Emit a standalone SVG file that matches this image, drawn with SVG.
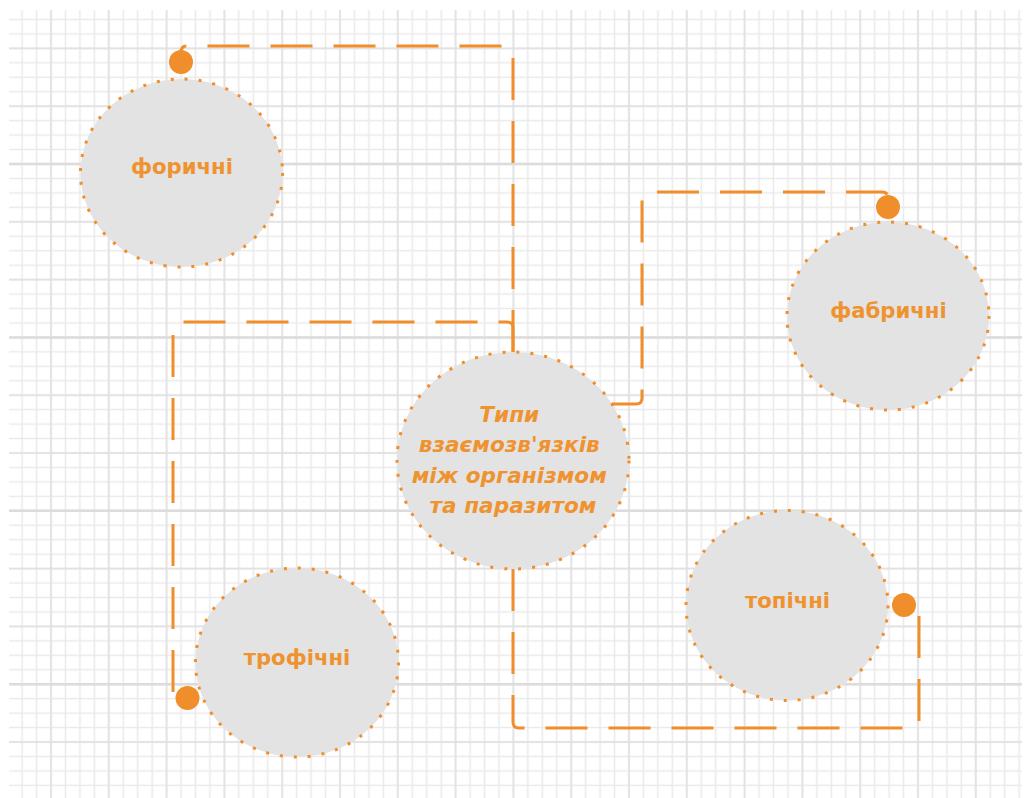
<svg xmlns="http://www.w3.org/2000/svg" width="1026" height="798" viewBox="0 0 1026 798">
  <style>
    .node { fill: #e3e3e3; stroke: #ef8e2a; stroke-width: 3; stroke-dasharray: 3 11; }
    .lbl { fill: #ef9330; font-family: "DejaVu Sans", "Liberation Sans", sans-serif; font-weight: bold; font-size: 21.2px; text-anchor: middle; }
    .main { font-style: italic; font-size: 21.6px; }
    .conn { fill: none; stroke: #ef8e2a; stroke-width: 3; stroke-dasharray: 42 21; marker-end: url(#dot); }
  </style>
  <defs>
    <pattern id="minor" patternUnits="userSpaceOnUse" x="43.775" y="41.175" width="14.45" height="14.45">
      <path d="M7.225 0V14.45M0 7.225H14.45" stroke="#eaeaea" stroke-width="1.5" fill="none"/>
    </pattern>
    <pattern id="major" patternUnits="userSpaceOnUse" x="22.1" y="19.5" width="57.8" height="57.8">
      <path d="M28.9 0V57.8M0 28.9H57.8" stroke="#e0e0e0" stroke-width="1.4" fill="none"/>
    </pattern>
    <marker id="dot" markerUnits="userSpaceOnUse" viewBox="0 0 26 26" markerWidth="26" markerHeight="26" refX="13" refY="13">
      <circle cx="13" cy="13" r="12" fill="#ef8e2a"/>
    </marker>
  </defs>
  <rect width="1026" height="798" fill="#ffffff"/>
  <g id="grid">
    <rect x="9" y="10" width="1013" height="788" fill="url(#minor)"/>
    <rect x="9" y="10" width="1013" height="788" fill="url(#major)"/>
    <g stroke="#dcdcdc" stroke-width="2.5">
      <line x1="9" y1="164" x2="1022" y2="164"/>
      <line x1="9" y1="337.4" x2="1022" y2="337.4"/>
      <line x1="9" y1="510.8" x2="1022" y2="510.8"/>
      <line x1="9" y1="684.2" x2="1022" y2="684.2"/>
    </g>
  </g>
  <g id="node-center">
    <ellipse class="node" cx="513" cy="460.5" rx="116" ry="108.5"/>
    <text class="lbl main">
      <tspan x="513" y="421.5">Типи</tspan>
      <tspan x="513" y="452">взаємозв'язків</tspan>
      <tspan x="513" y="482.5">між організмом</tspan>
      <tspan x="513" y="513">та паразитом</tspan>
    </text>
  </g>
  <g id="node-forychni">
    <ellipse class="node" cx="181.5" cy="173" rx="101" ry="94"/>
    <text class="lbl" x="182" y="174">форичні</text>
  </g>
  <g id="node-fabrychni">
    <ellipse class="node" cx="888" cy="316" rx="101" ry="94"/>
    <text class="lbl" x="888.5" y="318">фабричні</text>
  </g>
  <g id="node-trofichni">
    <ellipse class="node" cx="297" cy="662.5" rx="101.5" ry="94.5"/>
    <text class="lbl" x="297" y="664.5">трофічні</text>
  </g>
  <g id="node-topichni">
    <ellipse class="node" cx="787" cy="605.5" rx="101" ry="95"/>
    <text class="lbl" x="787.5" y="608">топічні</text>
  </g>
  <g id="connectors">
    <path class="conn" d="M513 352V52Q513 46 507 46H187Q181 46 181 52V62"/>
    <path class="conn" d="M513 352V328Q513 322 507 322H179Q173 322 173 328V692Q173 698 179 698H187.5"/>
    <path class="conn" d="M612 404H636Q642 404 642 398V198Q642 192 648 192H882Q888 192 888 198V207"/>
    <path class="conn" d="M513 569V722Q513 728 519 728H913Q919 728 919 722V611Q919 605 913 605H904"/>
  </g>
</svg>
